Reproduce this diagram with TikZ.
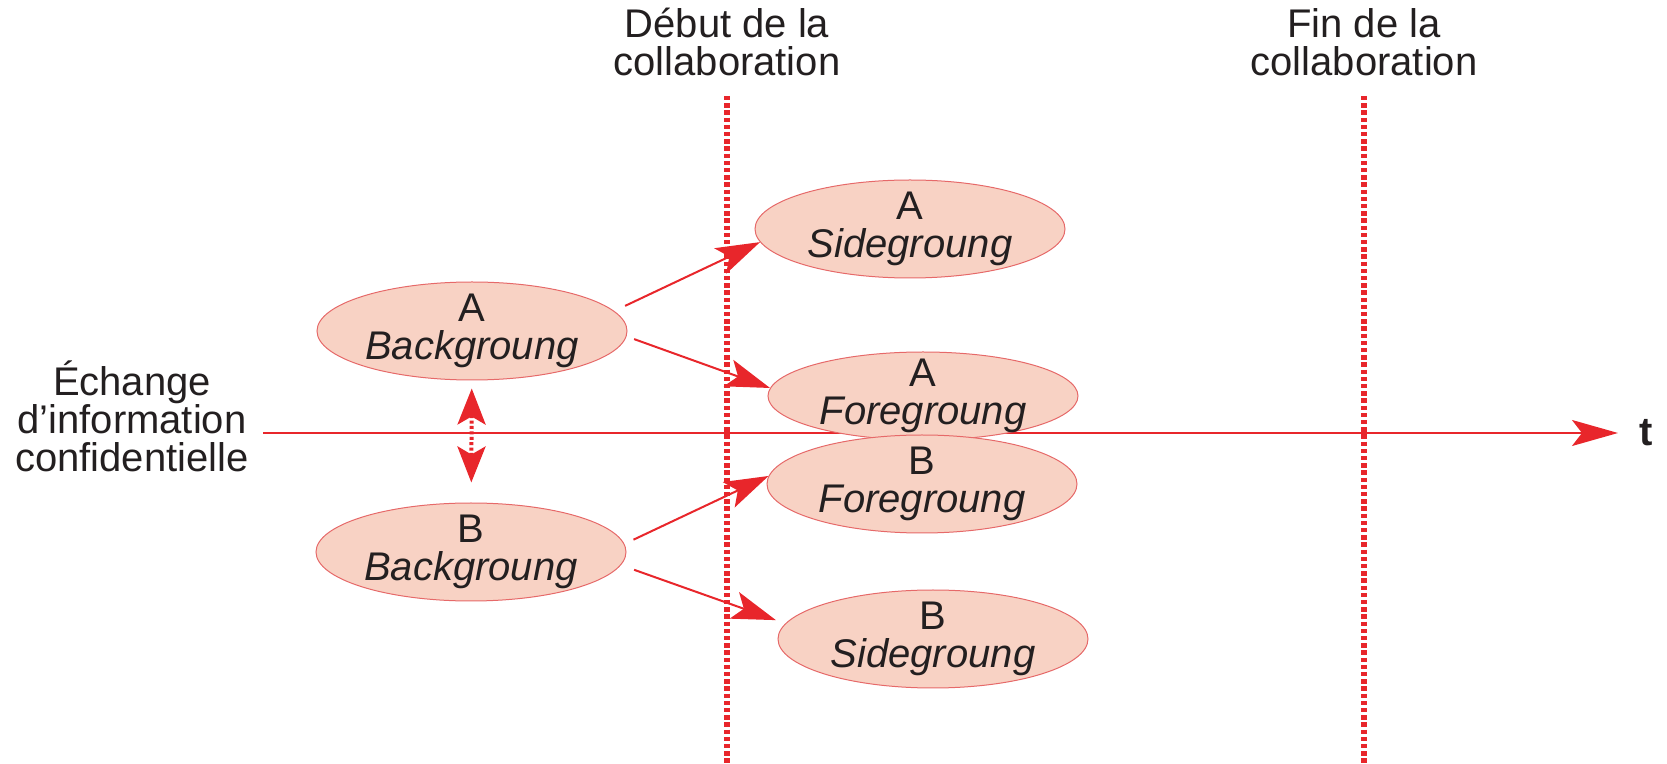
\documentclass[tikz,border=0pt]{standalone}
\usepackage{fontspec}
\setmainfont{Liberation Sans}
\usetikzlibrary{shapes.geometric,arrows.meta}
\definecolor{arrred}{RGB}{232,38,43}
\definecolor{ellfill}{RGB}{248,210,196}
\definecolor{elldraw}{RGB}{230,105,105}
\definecolor{txt}{RGB}{35,31,32}
\begin{document}
\begin{tikzpicture}[x=0.5pt,y=-0.5pt,
  font=\fontsize{20}{19}\selectfont, text=txt,
  ell/.style={ellipse, fill=ellfill, draw=elldraw, line width=0.5pt,
    minimum width=155pt, minimum height=49pt, inner sep=0pt},
  lbl/.style={align=center, inner sep=0pt, text=txt},
  conn/.style={draw=arrred, line width=1pt,
    -{Stealth[length=22pt,width=14pt,inset=5pt]}},
  timeline/.style={draw=arrred, line width=2.8pt, dash pattern=on 2.2pt off 1.4pt},
  dbl/.style={draw=arrred, line width=2pt, dash pattern=on 1.5pt off 1.2pt,
    {Stealth[length=18pt,width=14pt,inset=4pt]}-{Stealth[length=18pt,width=14pt,inset=4pt]}},
  axis/.style={draw=arrred, line width=1pt,
    -{Stealth[length=23pt,width=13pt,inset=5pt]}}
]
\useasboundingbox (0,0) rectangle (1667,764);

% labels
\node[lbl] (debut) at (727,42) {Début de la\\collaboration};
\node[lbl] (fin) at (1364,42) {Fin de la\\collaboration};
\node[lbl] (echange) at (132,416) {Échange\\d’information\\confidentielle};
\node[inner sep=0pt, font=\fontsize{20}{19}\selectfont\bfseries] (t) at (1646,433) {t};

% vertical dotted lines
\coordinate (d1top) at (727,96);
\coordinate (d1bot) at (727,764);
\coordinate (d2top) at (1364,96);
\coordinate (d2bot) at (1364,764);
\draw[timeline] (d1top) -- (d1bot);
\draw[timeline] (d2top) -- (d2bot);

% time axis
\coordinate (axstart) at (263,433);
\coordinate (axend) at (1618,433);
\draw[axis] (axstart) -- (axend);

% ellipses
\node[ell, label={[lbl]center:A\\\textit{Backgroung}}] (aback) at (472,331) {};
\node[ell, label={[lbl]center:B\\\textit{Backgroung}}] (bback) at (471,552) {};
\node[ell, label={[lbl]center:A\\\textit{Sidegroung}}] (aside) at (910,229) {};
\node[ell, minimum height=44pt, label={[lbl]center:A\\\textit{Foregroung}}] (afore) at (923,396) {};
\node[ell, label={[lbl]center:B\\\textit{Foregroung}}] (bfore) at (922,484) {};
\node[ell, label={[lbl]center:B\\\textit{Sidegroung}}] (bside) at (933,639) {};

% connectors
\draw[conn, shorten <=6pt] (aback.8) -- (aside.185);
\draw[conn, shorten <=4pt] (aback.-2) -- (afore.177);
\draw[conn, shorten <=5pt] (bback.3) -- (bfore.177);
\draw[conn, shorten <=7pt, shorten >=5pt] (bback.-5) -- (bside.174);

% exchange double arrow
\draw[dbl, shorten <=4pt, shorten >=10pt] (aback) -- (bback);
\end{tikzpicture}
\end{document}
